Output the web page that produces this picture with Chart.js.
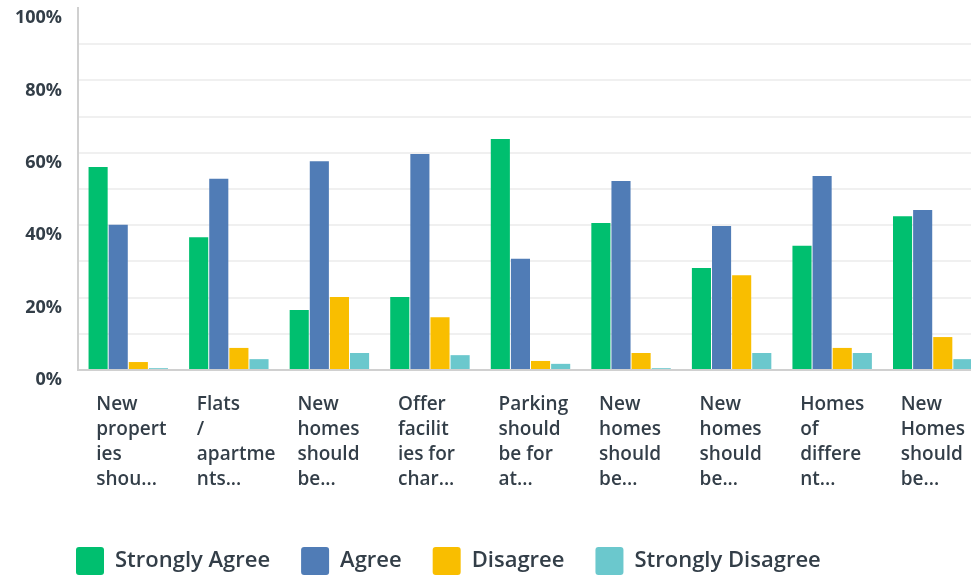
<!DOCTYPE html>
<html>
<head>
<meta charset="utf-8">
<script src="https://cdn.jsdelivr.net/npm/chart.js@4/dist/chart.umd.min.js"></script>
<style>
  html, body { margin: 0; padding: 0; background: #fff; overflow: hidden; }
  #wrap { width: 990px; height: 576px; }
</style>
</head>
<body>
<div id="wrap"><canvas id="chart"></canvas></div>
<script>
// Survey answers, % of respondents
const categories = [
  ["New", "propert", "ies", "shou..."],
  ["Flats", "/", "apartme", "nts..."],
  ["New", "homes", "should", "be..."],
  ["Offer", "facilit", "ies for", "char..."],
  ["Parking", "should", "be for", "at..."],
  ["New", "homes", "should", "be..."],
  ["New", "homes", "should", "be..."],
  ["Homes", "of", "differe", "nt..."],
  ["New", "Homes", "should", "be..."]
];
const stronglyAgree = [56.1, 36.7, 16.6, 20.2, 63.8, 40.6, 28.2, 34.3, 42.5];
const agree = [40.1, 52.8, 57.7, 59.7, 30.7, 52.2, 39.8, 53.6, 44.2];
const disagree = [2.2, 6.1, 20.2, 14.6, 2.5, 4.7, 26.2, 6.1, 9.1];
const stronglyDisagree = [0.5, 3.0, 4.7, 4.1, 1.7, 0.5, 4.7, 4.7, 3.0];

const textColor = "#333e48";

// move the legend to where the original sits
const nudgeLegend = {
  id: "nudgeLegend",
  afterLayout(chart) {
    chart.legend.left += 45;
    chart.legend.top += 9;
  }
};

new Chart(document.getElementById("chart"), {
  type: "bar",
  data: {
    labels: categories,
    datasets: [
      { label: "Strongly Agree", data: stronglyAgree, backgroundColor: "#00bf6f" },
      { label: "Agree", data: agree, backgroundColor: "#507cb6" },
      { label: "Disagree", data: disagree, backgroundColor: "#f9be00" },
      { label: "Strongly Disagree", data: stronglyDisagree, backgroundColor: "#6bc8cd" }
    ]
  },
  options: {
    responsive: true,
    maintainAspectRatio: false,
    animation: false,
    datasets: { bar: { categoryPercentage: 0.8, barPercentage: 0.95, borderWidth: 0 } },
    layout: { padding: { top: 0, right: 7, bottom: 0, left: 0 } },
    plugins: {
      tooltip: { enabled: false },
      legend: {
        position: "bottom",
        align: "start",
        labels: {
          boxWidth: 28,
          boxHeight: 28,
          padding: 31,
          useBorderRadius: true,
          borderRadius: 3,
          color: textColor,
          font: { family: "'Open Sans', sans-serif", size: 22, weight: "600" }
        }
      }
    },
    scales: {
      x: {
        grid: { display: false, drawTicks: false },
        border: { color: "#d0d0d0", width: 2 },
        ticks: {
          align: "start",
          labelOffset: -32,
          padding: 22,
          maxRotation: 0,
          autoSkip: false,
          color: textColor,
          font: { family: "'Open Sans', sans-serif", size: 19, weight: "600", lineHeight: "25px" }
        },
        afterFit(axis) {
          axis.paddingLeft = 0;
          axis.paddingRight = 0;
          axis.height = 576 - 370 - 69;
        }
      },
      y: {
        min: 0,
        max: 100,
        grid: {
          drawTicks: false,
          lineWidth: 2,
          color: (c) => (c.tick && (c.tick.value === 100 || c.tick.value === 0) ? "rgba(0,0,0,0)" : "#f0f0f0")
        },
        border: { color: "#d0d0d0", width: 2 },
        ticks: {
          stepSize: 10,
          autoSkip: false,
          padding: 16,
          labelOffset: 10,
          color: textColor,
          font: { family: "'Open Sans', sans-serif", size: 18, weight: "700" },
          callback: (v) => (v % 20 === 0 ? v + "%" : "")
        },
        afterFit(axis) {
          axis.width = 78;
          axis.paddingTop = 8;
          axis.paddingBottom = 0;
        }
      }
    }
  },
  plugins: [nudgeLegend]
});
</script>
</body>
</html>
